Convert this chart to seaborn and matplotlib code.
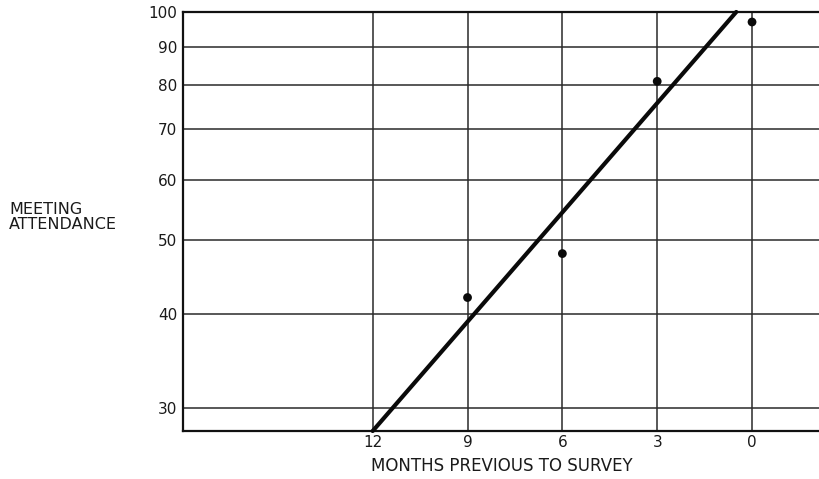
import matplotlib
matplotlib.use("Agg")
import matplotlib.pyplot as plt
from matplotlib.ticker import FixedLocator, FixedFormatter, NullLocator
import seaborn as sns
import pandas as pd

# Observed attendance by months before the survey
months = [9, 6, 3, 0]
attendance = [42, 48, 81, 97]

# Fitted trend line (log scale), endpoints
trend_months = [12, 0.5]
trend_attendance = [28, 100]

y_ticks = [30, 40, 50, 60, 70, 80, 90, 100]
x_ticks = [12, 9, 6, 3, 0]

sns.set_theme(style="white")
plt.rcParams["font.family"] = ["DejaVu Sans"]

fig = plt.figure(figsize=(8.2, 4.79), dpi=100)
ax = fig.add_axes([0.2232, 0.1002, 0.7768, 0.8748])

ax.set_yscale("log")
ax.set_ylim(28, 100)
ax.set_xlim(18, -2.15)

ax.yaxis.set_major_locator(FixedLocator(y_ticks))
ax.yaxis.set_major_formatter(FixedFormatter([str(v) for v in y_ticks]))
ax.yaxis.set_minor_locator(NullLocator())
ax.xaxis.set_major_locator(FixedLocator(x_ticks))
ax.xaxis.set_major_formatter(FixedFormatter([str(v) for v in x_ticks]))

ax.grid(True, which="major", color="#2a2a2a", linewidth=1.1)
ax.set_axisbelow(True)

trend = pd.DataFrame({"months": trend_months, "attendance": trend_attendance})
obs = pd.DataFrame({"months": months, "attendance": attendance})

sns.lineplot(data=trend, x="months", y="attendance", ax=ax, color="#0a0a0a",
             linewidth=3.0, solid_capstyle="round", sort=False, clip_on=False, zorder=3)
sns.scatterplot(data=obs, x="months", y="attendance", ax=ax, color="#0a0a0a",
                s=40, edgecolor="none", clip_on=False, zorder=4)

for side in ["left", "top", "bottom"]:
    ax.spines[side].set_visible(True)
    ax.spines[side].set_color("#111111")
    ax.spines[side].set_linewidth(1.6)
ax.spines["right"].set_visible(False)

ax.tick_params(axis="both", which="both", length=0, labelsize=11, colors="#1a1a1a")
ax.tick_params(axis="y", pad=4)
ax.tick_params(axis="x", pad=3)

ax.set_xlabel("MONTHS PREVIOUS TO SURVEY", fontsize=12, color="#1a1a1a", labelpad=5)
ax.set_ylabel("")
fig.text(0.011, 0.548, "MEETING\nATTENDANCE", fontsize=11.5, color="#1a1a1a",
         ha="left", va="center", linespacing=1.0)

fig.savefig("out.png", dpi=100, facecolor="white")
